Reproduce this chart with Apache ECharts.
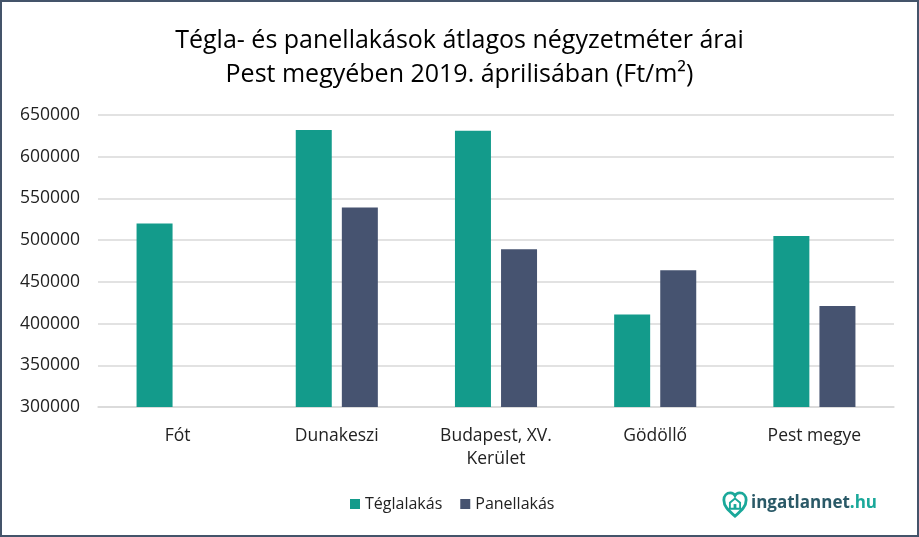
<!DOCTYPE html>
<html><head><meta charset="utf-8">
<script src="https://cdn.jsdelivr.net/npm/echarts@6/dist/echarts.min.js"></script>
<style>html,body{margin:0;padding:0;background:#fff}#c{width:919px;height:537px;box-sizing:border-box;border:2px solid #44546A}</style>
</head><body><div id="c"></div>
<script>
const categories = ['Fót', 'Dunakeszi', 'Budapest, XV.\nKerület', 'Gödöllő', 'Pest megye'];
const teglaValues = [520000, 632000, 631000, 411000, 505000];
const panelValues = [null, 539000, 489000, 464000, 421000];
const seriesNames = ['Téglalakás', 'Panellakás'];
const chart = echarts.init(document.getElementById('c'), null, {renderer: 'canvas'});
const font = 'Open Sans, DejaVu Sans, sans-serif';
const heartSvg = 'data:image/svg+xml;utf8,' + encodeURIComponent(
  '<svg xmlns="http://www.w3.org/2000/svg" width="26" height="28" viewBox="-2 -2 28 30">' +
  '<path d="M12 25 C4 18 0 14 0 7.5 C0 3 3 0 7 0 C9 0 11 1 12 3 C13 1 15 0 17 0 C21 0 24 3 24 7.5 C24 14 20 18 12 25 Z" fill="none" stroke="#1AA89A" stroke-width="3"/>' +
  '<path d="M12 6 L17.5 10.5 L17.5 17 L6.5 17 L6.5 10.5 Z" fill="none" stroke="#1AA89A" stroke-width="2"/>' +
  '<rect x="10.5" y="12" width="3" height="5" fill="#1AA89A"/></svg>');
chart.setOption({
  animation: false,
  title: {
    text: 'Tégla- és panellakások átlagos négyzetméter árai\nPest megyében 2019. áprilisában (Ft/m²)',
    left: 'center', top: 17,
    textStyle: {fontFamily: font, fontSize: 25, fontWeight: 'normal', color: '#000', lineHeight: 34}
  },
  legend: {
    bottom: 18, left: 343, itemWidth: 10, itemHeight: 10, itemGap: 18,
    icon: 'rect',
    textStyle: {fontFamily: font, fontSize: 16, color: '#222'},
    data: seriesNames
  },
  grid: {left: 96, right: 23, top: 113, bottom: 128},
  xAxis: {
    type: 'category', data: categories,
    axisTick: {show: false},
    axisLine: {lineStyle: {color: '#D9D9D9', width: 1.5}},
    axisLabel: {fontFamily: font, fontSize: 17.5, color: '#222', margin: 18, lineHeight: 23}
  },
  yAxis: {
    type: 'value', min: 300000, max: 650000, interval: 50000,
    axisLine: {show: false}, axisTick: {show: false},
    splitLine: {lineStyle: {color: '#D9D9D9', width: 1.5}},
    axisLabel: {fontFamily: font, fontSize: 17.5, color: '#222', margin: 18, formatter: v => String(v)}
  },
  series: [
    {name: seriesNames[0], type: 'bar', data: teglaValues, barWidth: 36, barGap: '28%', itemStyle: {color: '#139B8B'}},
    {name: seriesNames[1], type: 'bar', data: panelValues, barWidth: 36, itemStyle: {color: '#465370'}}
  ],
  graphic: [
    {type: 'image', left: 720, top: 489, style: {image: heartSvg, width: 26, height: 28}},
    {type: 'text', left: 749, top: 493,
     style: {text: '{a|ingatlannet}{b|.hu}', rich: {
       a: {fontFamily: font, fontSize: 17, fontWeight: 'bold', fill: '#2A5967', color: '#2A5967'},
       b: {fontFamily: font, fontSize: 17, fontWeight: 'bold', fill: '#1AA89A', color: '#1AA89A'}}}}
  ]
});
</script></body></html>
